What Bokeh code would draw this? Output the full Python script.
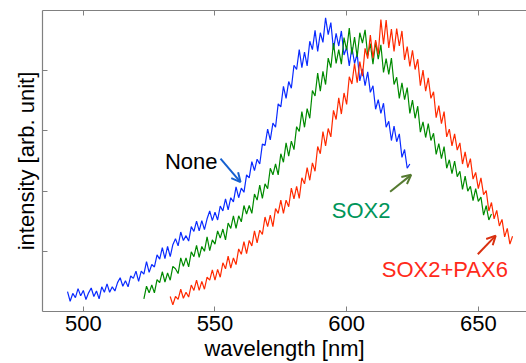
from bokeh.plotting import figure
from bokeh.models import FixedTicker, LinearAxis, Arrow, OpenHead, Label, Range1d
from bokeh.embed import file_html
from bokeh.resources import INLINE

# ---- data (wavelength in nm, intensity in arb. units) ----
none_start = 494
none_vals = [
    0.33, 0.17, 0.30, 0.23, 0.38, 0.26, 0.35, 0.20, 0.31, 0.39,
    0.25, 0.34, 0.21, 0.41, 0.32, 0.46, 0.32, 0.41, 0.34, 0.48,
    0.56, 0.42, 0.51, 0.41, 0.59, 0.55, 0.67, 0.50, 0.67, 0.62,
    0.83, 0.65, 0.78, 0.74, 0.94, 0.87, 1.06, 0.88, 1.08, 0.91,
    1.11, 1.21, 1.09, 1.32, 1.18, 1.26, 1.17, 1.41, 1.33, 1.50,
    1.34, 1.51, 1.36, 1.54, 1.67, 1.51, 1.65, 1.52, 1.75, 1.67,
    1.87, 1.69, 1.89, 1.82, 2.07, 1.89, 2.05, 1.98, 2.27, 2.22,
    2.49, 2.34, 2.53, 2.45, 2.78, 2.76, 3.03, 2.85, 3.13, 3.06,
    3.45, 3.40, 3.74, 3.54, 3.82, 3.71, 4.09, 4.02, 4.35, 4.05,
    4.31, 4.08, 4.49, 4.35, 4.67, 4.32, 4.63, 4.47, 4.88, 4.60,
    4.80, 4.35, 4.62, 4.41, 4.66, 4.26, 4.39, 4.08, 4.39, 4.12,
    4.28, 3.83, 4.03, 3.75, 3.98, 3.64, 3.75, 3.36, 3.52, 3.29,
    3.46, 3.06, 3.16, 2.84, 3.08, 2.82, 2.95, 2.56, 2.69, 2.38,
    2.45,
]
sox2_start = 523
sox2_vals = [
    0.21, 0.42, 0.31, 0.44, 0.31, 0.53, 0.48, 0.66, 0.49, 0.64,
    0.52, 0.75, 0.71, 0.63, 0.89, 0.75, 0.89, 0.74, 0.99, 0.91,
    1.10, 0.90, 1.08, 1.00, 1.24, 1.01, 1.19, 1.12, 1.34, 1.22,
    1.37, 1.19, 1.47, 1.38, 1.59, 1.38, 1.59, 1.49, 1.76, 1.62,
    1.76, 1.63, 1.95, 1.85, 2.10, 1.88, 2.12, 2.04, 2.38, 2.27,
    2.45, 2.27, 2.62, 2.48, 2.80, 2.58, 2.83, 2.69, 3.07, 2.99,
    3.32, 3.06, 3.37, 3.21, 3.67, 3.58, 3.96, 3.66, 3.99, 3.77,
    4.21, 4.05, 4.46, 4.12, 4.35, 4.11, 4.55, 4.34, 4.71, 4.27,
    4.56, 4.23, 4.63, 4.46, 4.68, 4.25, 4.45, 4.11, 4.48, 4.19,
    4.43, 3.97, 4.20, 3.94, 4.21, 3.77, 3.89, 3.54, 3.80, 3.52,
    3.72, 3.29, 3.51, 3.21, 3.41, 2.98, 3.15, 2.89, 3.12, 2.84,
    2.96, 2.61, 2.79, 2.54, 2.74, 2.38, 2.52, 2.29, 2.50, 2.24,
    2.33, 2.03, 2.25, 2.00, 2.08, 1.84, 2.04, 1.83, 1.90, 1.60,
    1.76, 1.52, 1.62,
]
pax6_start = 533
pax6_vals = [
    0.25, 0.11, 0.25, 0.20, 0.37, 0.22, 0.32, 0.24, 0.44, 0.35,
    0.52, 0.35, 0.50, 0.37, 0.57, 0.52, 0.69, 0.52, 0.70, 0.57,
    0.81, 0.71, 0.92, 0.72, 0.89, 0.78, 1.04, 0.95, 1.16, 0.96,
    1.18, 1.09, 1.34, 1.14, 1.35, 1.28, 1.57, 1.41, 1.60, 1.41,
    1.71, 1.63, 1.85, 1.63, 1.85, 1.74, 2.05, 1.87, 2.08, 1.88,
    2.22, 2.12, 2.39, 2.18, 2.47, 2.33, 2.74, 2.62, 2.99, 2.75,
    3.04, 2.90, 3.34, 3.19, 3.55, 3.28, 3.63, 3.44, 3.90, 3.78,
    4.12, 3.80, 4.15, 3.91, 4.37, 4.20, 4.59, 4.21, 4.51, 4.27,
    4.85, 4.44, 4.84, 4.38, 4.69, 4.32, 4.70, 4.41, 4.66, 4.18,
    4.40, 4.07, 4.34, 4.02, 4.19, 3.75, 4.01, 3.66, 3.88, 3.54,
    3.65, 3.22, 3.42, 3.12, 3.32, 2.90, 3.03, 2.75, 2.95, 2.68,
    2.80, 2.45, 2.65, 2.39, 2.54, 2.20, 2.31, 2.04, 2.22, 1.94,
    2.01, 1.67, 1.81, 1.54, 1.68, 1.42, 1.53, 1.24, 1.38, 1.12,
    1.25,
]
none_x = list(range(none_start, none_start + len(none_vals)))
sox2_x = list(range(sox2_start, sox2_start + len(sox2_vals)))
pax6_x = list(range(pax6_start, pax6_start + len(pax6_vals)))

x_ticks = [500, 550, 600, 650]
y_ticks = [1, 2, 3, 4]

FONT = "Liberation Sans"
AX = "#808080"

p = figure(width=526, height=363, x_range=Range1d(484.5, 668.3), y_range=Range1d(0, 5),
           output_backend="svg", toolbar_location=None,
           min_border_left=42, min_border_right=0, min_border_top=10, min_border_bottom=0)
p.outline_line_color = None
p.grid.visible = False
p.background_fill_color = "white"

p.line(none_x, none_vals, line_color="#0a2bff", line_width=1.2)
p.line(sox2_x, sox2_vals, line_color="#008a00", line_width=1.2)
p.line(pax6_x, pax6_vals, line_color="#ff2a00", line_width=1.2)

bottom = p.below[0]
left = p.left[0]
top = LinearAxis()
p.add_layout(top, "above")

bottom.ticker = FixedTicker(ticks=x_ticks)
top.ticker = FixedTicker(ticks=x_ticks)
left.ticker = FixedTicker(ticks=y_ticks)

for ax in [bottom, left, top]:
    ax.axis_line_color = AX
    ax.axis_line_width = 1.2
    ax.major_tick_line_color = AX
    ax.major_tick_in = 5
    ax.major_tick_out = 0
    ax.minor_tick_line_color = None
    ax.major_label_text_font = FONT
    ax.major_label_text_font_size = "22px"
    ax.major_label_text_color = "black"
    ax.axis_label_text_font = FONT
    ax.axis_label_text_font_size = "22px"
    ax.axis_label_text_font_style = "normal"
    ax.axis_label_text_color = "black"

for ax in [top, left]:
    ax.major_label_text_font_size = "1px"
    ax.major_label_text_color = None
    ax.major_label_standoff = 0

left.axis_label = "intensity [arb. unit]"
left.axis_label_standoff = 4
bottom.axis_label = "wavelength [nm]"
bottom.major_label_standoff = 4
bottom.axis_label_standoff = 2

# annotations
p.add_layout(Label(x=541.0, y=2.50, text="None", text_font=FONT, text_font_size="22px",
                   text_color="black", text_align="center", text_baseline="middle"))
p.add_layout(Arrow(end=OpenHead(size=9, line_color="#1560d0", line_width=2),
                   x_start=552.1, y_start=2.54, x_end=559.7, y_end=2.15,
                   line_color="#1560d0", line_width=2))

p.add_layout(Label(x=605.5, y=1.68, text="SOX2", text_font=FONT, text_font_size="22px",
                   text_color="#00955a", text_align="center", text_baseline="middle"))
p.add_layout(Arrow(end=OpenHead(size=9, line_color="#557a30", line_width=2),
                   x_start=616.5, y_start=1.99, x_end=624.5, y_end=2.27,
                   line_color="#557a30", line_width=2))

p.add_layout(Label(x=637.3, y=0.70, text="SOX2+PAX6", text_font=FONT, text_font_size="22px",
                   text_color="#ff2a1a", text_align="center", text_baseline="middle"))
p.add_layout(Arrow(end=OpenHead(size=9, line_color="#d93010", line_width=2),
                   x_start=649.8, y_start=0.95, x_end=656.6, y_end=1.26,
                   line_color="#d93010", line_width=2))

open("out.html", "w").write(file_html(p, INLINE))
